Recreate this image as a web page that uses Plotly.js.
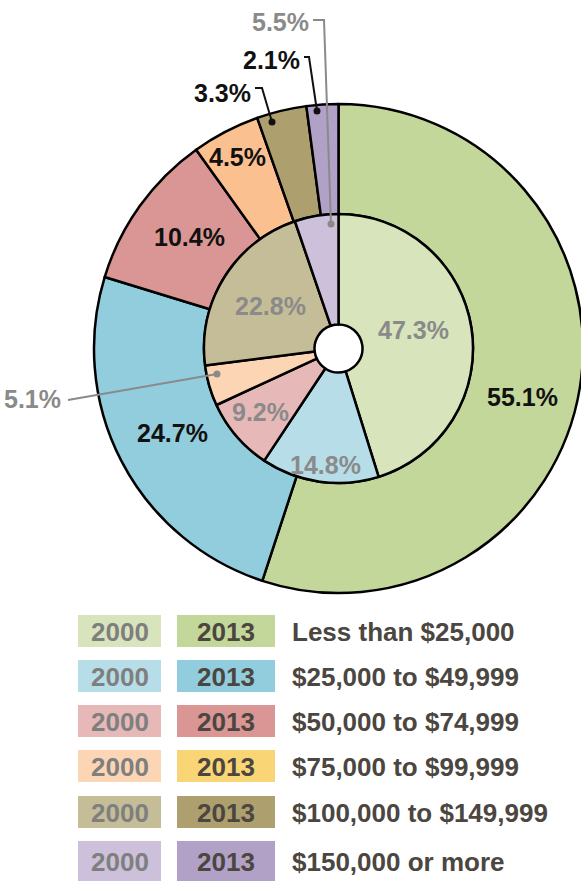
<!DOCTYPE html>
<html>
<head>
<meta charset="utf-8">
<script src="https://cdn.plot.ly/plotly-3.0.1.min.js"></script>
<style>
html, body { margin: 0; padding: 0; overflow: hidden; background: #fff; }
#chart { width: 590px; height: 881px; }
</style>
</head>
<body>
<div id="chart"></div>
<script>
// ---- data ----
const categories = ['Less than $25,000', '$25,000 to $49,999', '$50,000 to $74,999',
                    '$75,000 to $99,999', '$100,000 to $149,999', '$150,000 or more'];
const years = ['2000', '2013'];
const values2000 = [47.3, 14.8, 9.2, 5.1, 22.8, 5.5];
const values2013 = [55.1, 24.7, 10.4, 4.5, 3.3, 2.1];

// ---- styles ----
const colors2000 = ['#d8e4bc', '#b7dee8', '#e6b9b8', '#fcd5b4', '#c4bd97', '#ccc0da'];
const colors2013 = ['#c4d79b', '#92cddd', '#d99694', '#fac08f', '#ada06e', '#b2a1c7'];
const legend2013 = ['#c4d79b', '#92cddd', '#d99694', '#f9d576', '#ada06e', '#b2a1c7'];

const W = 590, H = 881;
const px = x => x / W;
const py = y => 1 - y / H;
const LBL = 'Liberation Sans, Arial, sans-serif';
const LEG = 'Liberation Sans, Arial, sans-serif';
const GRAY = '#8a8a8a';
const DARK = '#4b4640';
const fmt = v => v.toFixed(1) + '%';

const cx = 338.5, cy = 348.5, rOut = 244.5, rMid = 134.5, rHole = 24;

const traces = [
  {
    type: 'pie', values: values2013, labels: categories, sort: false,
    direction: 'clockwise', rotation: 0, hole: rMid / rOut,
    marker: { colors: colors2013, line: { color: '#000', width: 2.5 } },
    textinfo: 'none', hoverinfo: 'none', showlegend: false,
    domain: { x: [px(cx - rOut), px(cx + rOut)], y: [py(cy + rOut), py(cy - rOut)] }
  },
  {
    type: 'pie', values: values2000, labels: categories, sort: false,
    direction: 'clockwise', rotation: 0, hole: rHole / rMid,
    marker: { colors: colors2000, line: { color: '#000', width: 2.5 } },
    textinfo: 'none', hoverinfo: 'none', showlegend: false,
    domain: { x: [px(cx - rMid), px(cx + rMid)], y: [py(cy + rMid), py(cy - rMid)] }
  }
];

const annotations = [];
const shapes = [];
function label(text, x, y, color, anchor) {
  annotations.push({ text: '<b>' + text + '</b>', xref: 'paper', yref: 'paper',
    x: px(x), y: py(y), xanchor: anchor || 'center', yanchor: 'middle', showarrow: false,
    font: { family: LBL, size: 25, color: color } });
}
// outer (2013) labels
const outerPos = [[522, 397], [172, 433], [189, 237], [237, 157], [253, 93], [302, 60]];
values2013.forEach((v, i) => label(fmt(v), outerPos[i][0], outerPos[i][1], '#111',
  i >= 4 ? 'right' : 'center'));
// inner (2000) labels
const innerPos = [[413, 330], [326, 465], [260, 412], [63, 399], [270, 306], [311, 22]];
values2000.forEach((v, i) => label(fmt(v), innerPos[i][0], innerPos[i][1], GRAY,
  (i === 3 || i === 5) ? 'right' : 'center'));

function leader(pts, color) {
  let d = 'M ' + pts.map(p => px(p[0]) + ' ' + py(p[1])).join(' L ');
  shapes.push({ type: 'path', xref: 'paper', yref: 'paper', path: d,
    line: { color: color, width: 2 } });
  const e = pts[pts.length - 1], r = 3.5;
  shapes.push({ type: 'circle', xref: 'paper', yref: 'paper',
    x0: px(e[0] - r), x1: px(e[0] + r), y0: py(e[1] + r), y1: py(e[1] - r),
    fillcolor: color, line: { width: 0 } });
}
leader([[255, 88], [262, 88], [272, 122]], '#111');
leader([[304, 57], [309, 57], [317, 111]], '#111');
leader([[313, 20], [324, 20], [331, 224]], GRAY);
leader([[68, 400], [217, 374]], GRAY);

// ---- legend ----
const rowTop = [615, 660, 705, 750, 796, 841];
const rowBot = [647, 692, 737, 782, 828, 881];
categories.forEach((c, i) => {
  const t = rowTop[i], b = rowBot[i], m = (t + b) / 2;
  shapes.push({ type: 'rect', xref: 'paper', yref: 'paper', x0: px(78), x1: px(161),
    y0: py(b), y1: py(t), fillcolor: colors2000[i], line: { width: 0 } });
  shapes.push({ type: 'rect', xref: 'paper', yref: 'paper', x0: px(177), x1: px(275),
    y0: py(b), y1: py(t), fillcolor: legend2013[i], line: { width: 0 } });
  annotations.push({ text: '<b>' + years[0] + '</b>', xref: 'paper', yref: 'paper',
    x: px(119.5), y: py(m + 1), xanchor: 'center', yanchor: 'middle', showarrow: false,
    font: { family: LEG, size: 26, color: '#7f7f7f' } });
  annotations.push({ text: '<b>' + years[1] + '</b>', xref: 'paper', yref: 'paper',
    x: px(226), y: py(m + 1), xanchor: 'center', yanchor: 'middle', showarrow: false,
    font: { family: LEG, size: 26, color: DARK } });
  annotations.push({ text: '<b>' + c + '</b>', xref: 'paper', yref: 'paper',
    x: px(290), y: py(m + 1), xanchor: 'left', yanchor: 'middle', showarrow: false,
    font: { family: LEG, size: 26, color: DARK } });
});

const layout = {
  width: W, height: H,
  margin: { l: 0, r: 0, t: 0, b: 0 },
  paper_bgcolor: '#fff', plot_bgcolor: '#fff',
  showlegend: false,
  annotations: annotations, shapes: shapes
};
Plotly.newPlot('chart', traces, layout, { staticPlot: true, displayModeBar: false });
</script>
</body>
</html>
